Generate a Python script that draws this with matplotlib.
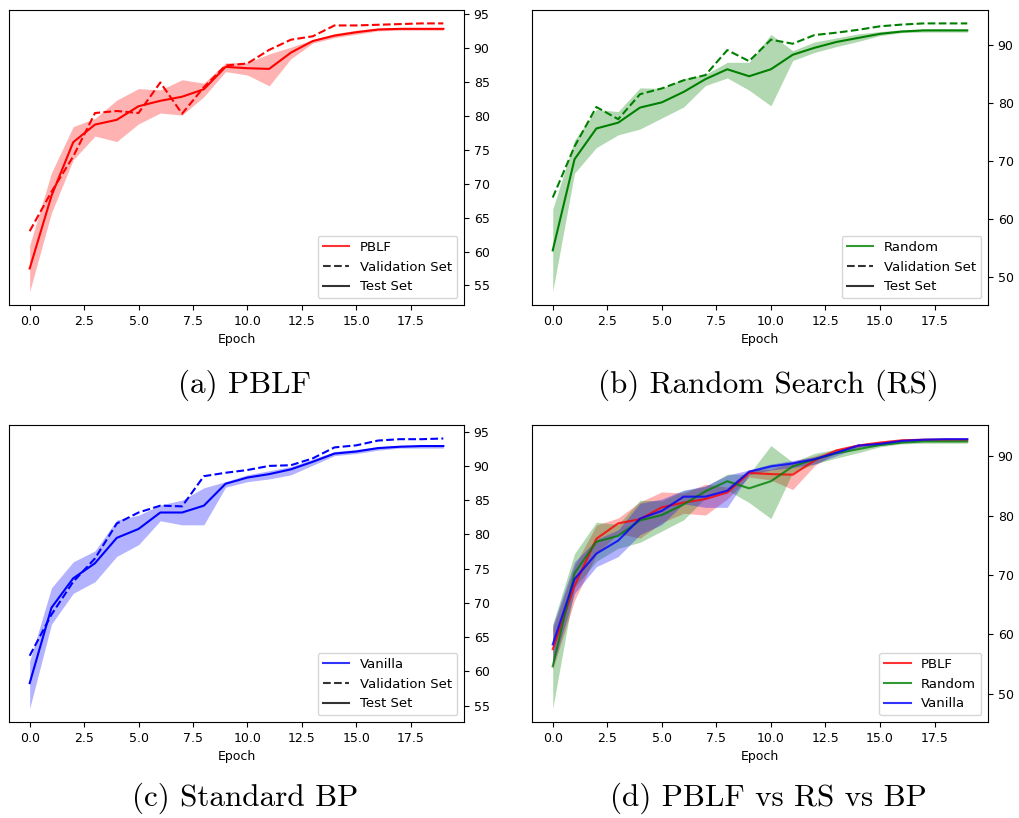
import numpy as np
import matplotlib
matplotlib.use("Agg")
import matplotlib.pyplot as plt
from matplotlib.lines import Line2D

epochs = np.arange(20)

# PBLF
pblf_test = [57.5, 68.2, 76.1, 78.7, 79.4, 81.4, 82.2, 82.8, 83.9, 87.2,
             87.0, 86.9, 89.3, 91.0, 91.8, 92.3, 92.7, 92.8, 92.8, 92.8]
pblf_val = [63.0, 68.8, 74.0, 80.4, 80.7, 80.4, 84.9, 80.3, 84.2, 87.4,
            87.7, 89.7, 91.2, 91.7, 93.3, 93.3, 93.4, 93.5, 93.6, 93.6]
pblf_lo = [54.1, 65.7, 73.5, 77.0, 76.2, 78.8, 80.4, 80.1, 82.8, 86.5,
           86.0, 84.4, 88.4, 90.7, 91.5, 92.0, 92.5, 92.6, 92.6, 92.6]
pblf_hi = [60.9, 71.6, 78.4, 79.6, 82.3, 84.0, 83.8, 85.3, 84.8, 87.8,
           87.8, 89.1, 90.1, 91.2, 92.1, 92.6, 92.9, 93.0, 93.0, 93.0]

# Random search
rand_test = [54.6, 70.3, 75.6, 76.6, 79.2, 80.1, 81.9, 84.1, 85.8, 84.6,
             85.8, 88.3, 89.5, 90.5, 91.2, 91.9, 92.3, 92.5, 92.5, 92.5]
rand_val = [63.7, 72.5, 79.3, 77.2, 81.5, 82.5, 83.9, 84.8, 89.1, 87.2,
            90.9, 90.2, 91.7, 92.1, 92.6, 93.2, 93.5, 93.7, 93.7, 93.7]
rand_lo = [47.5, 67.9, 72.3, 74.5, 75.5, 77.4, 79.3, 83.0, 84.3, 82.2,
           79.5, 87.3, 88.7, 89.7, 90.6, 91.6, 92.1, 92.2, 92.2, 92.2]
rand_hi = [61.7, 73.6, 78.9, 78.5, 82.6, 82.5, 84.2, 84.9, 87.0, 87.0,
           91.8, 89.0, 90.5, 91.2, 91.9, 92.3, 92.6, 92.7, 92.7, 92.7]

# Standard BP
van_test = [58.3, 69.3, 73.6, 75.8, 79.5, 80.8, 83.2, 83.2, 84.2, 87.4,
            88.3, 88.8, 89.5, 90.6, 91.8, 92.1, 92.6, 92.8, 92.9, 92.9]
van_val = [62.3, 68.3, 73.1, 76.5, 81.6, 83.2, 84.2, 84.1, 88.5, 89.0,
           89.4, 90.0, 90.1, 91.1, 92.7, 93.0, 93.7, 93.9, 93.9, 94.0]
van_lo = [54.6, 66.9, 71.4, 73.1, 76.8, 78.5, 82.0, 81.4, 81.4, 86.9,
          87.7, 88.1, 88.7, 90.1, 91.5, 91.8, 92.3, 92.6, 92.6, 92.6]
van_hi = [61.5, 72.2, 76.0, 77.6, 82.1, 82.8, 84.3, 85.0, 86.8, 87.7,
          88.7, 89.3, 89.9, 91.0, 92.1, 92.4, 92.8, 93.0, 93.0, 93.0]

W, H = 1019, 818
fig = plt.figure(figsize=(W / 100, H / 100), dpi=100)


def make_ax(left, top, right, bottom):
    ax = fig.add_axes([left / W, 1 - bottom / H, (right - left) / W, (bottom - top) / H])
    ax.yaxis.tick_right()
    ax.tick_params(labelsize=9)
    ax.set_xlabel('Epoch', fontsize=9)
    ax.set_xticks([0, 2.5, 5, 7.5, 10, 12.5, 15, 17.5])
    return ax


def single(ax, test, val, lo, hi, color, name):
    ax.fill_between(epochs, lo, hi, color=color, alpha=0.3, linewidth=0)
    ax.plot(epochs, test, color=color, lw=1.5)
    ax.plot(epochs, val, color=color, lw=1.5, ls='--')
    handles = [Line2D([], [], color=color, lw=1.5, alpha=0.8),
               Line2D([], [], color='k', lw=1.5, ls='--', alpha=0.8),
               Line2D([], [], color='k', lw=1.5, alpha=0.8)]
    ax.legend(handles, [name, 'Validation Set', 'Test Set'], loc='lower right', fontsize=9.5)


ax1 = make_ax(9, 10, 464, 305)
single(ax1, pblf_test, pblf_val, pblf_lo, pblf_hi, 'red', 'PBLF')
ax1.set_yticks([55, 60, 65, 70, 75, 80, 85, 90, 95])

ax2 = make_ax(532, 10, 988, 305)
single(ax2, rand_test, rand_val, rand_lo, rand_hi, 'green', 'Random')

ax3 = make_ax(9, 425, 464, 722)
single(ax3, van_test, van_val, van_lo, van_hi, 'blue', 'Vanilla')
ax3.set_yticks([55, 60, 65, 70, 75, 80, 85, 90, 95])

ax4 = make_ax(532, 425, 988, 722)
for test, lo, hi, color, name in [(pblf_test, pblf_lo, pblf_hi, 'red', 'PBLF'),
                                  (rand_test, rand_lo, rand_hi, 'green', 'Random'),
                                  (van_test, van_lo, van_hi, 'blue', 'Vanilla')]:
    ax4.fill_between(epochs, lo, hi, color=color, alpha=0.3, linewidth=0)
for test, color, name in [(pblf_test, 'red', 'PBLF'),
                          (rand_test, 'green', 'Random'),
                          (van_test, 'blue', 'Vanilla')]:
    ax4.plot(epochs, test, color=color, lw=1.5, alpha=0.8, label=name)
ax4.legend(loc='lower right', fontsize=9.5)

captions = ['(a) PBLF', '(b) Random Search (RS)', '(c) Standard BP', '(d) PBLF vs RS vs BP']
cpos = [(245, 385), (768, 385), (245, 798), (768, 798)]
for txt, (cx, cy) in zip(captions, cpos):
    fig.text(cx / W, 1 - cy / H, txt, ha='center', va='center', fontsize=22.4, family='cmr10')

fig.savefig('out.png', dpi=100)
